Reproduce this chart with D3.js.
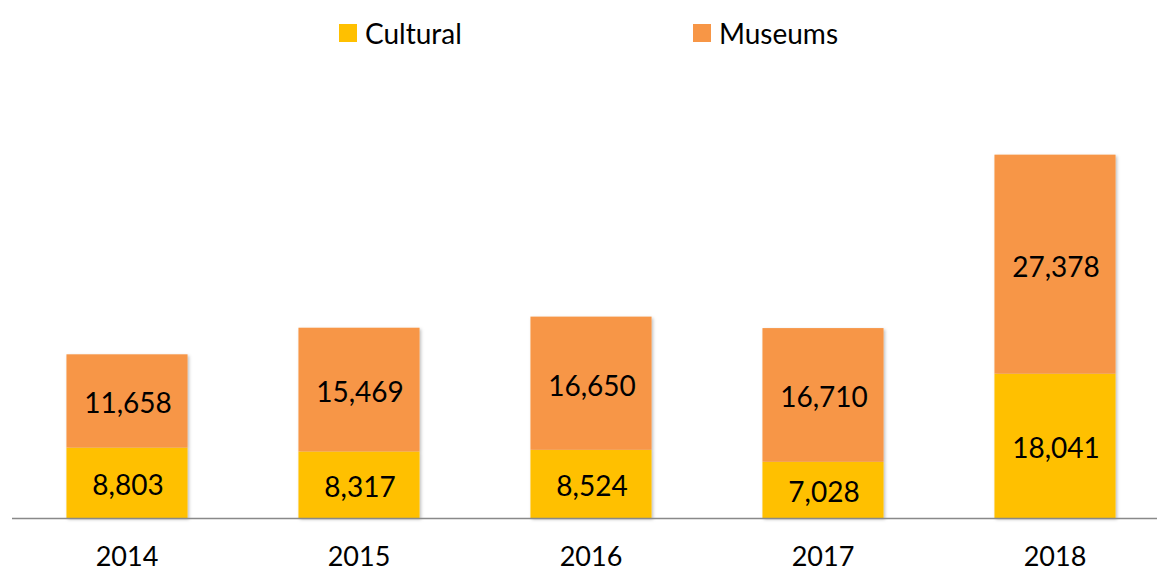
<!DOCTYPE html>
<html>
<head>
<meta charset="utf-8">
<script src="https://cdn.jsdelivr.net/npm/d3@7"></script>
<style>
  body { margin: 0; background: #fff; }
  svg { display: block; font-family: Lato, "Open Sans", sans-serif; }
</style>
</head>
<body>
<svg id="chart" width="1157" height="572"></svg>
<script>
/************************* Data *************************/
const years    = ["2014", "2015", "2016", "2017", "2018"];
const cultural = [8803, 8317, 8524, 7028, 18041];
const museums  = [11658, 15469, 16650, 16710, 27378];
const seriesNames  = ["Cultural", "Museums"];
const seriesColors = ["#FFC000", "#F79646"];

/************************* Layout *************************/
const W = 1157, H = 572;
const baseY = 518;

const svg = d3.select("#chart");

const rows = years.map((y, i) => ({year: y, Cultural: cultural[i], Museums: museums[i]}));
const stacked = d3.stack().keys(seriesNames)(rows);

const x = d3.scaleBand()
  .domain(years)
  .range([11, 1171])
  .paddingInner(0.478)
  .paddingOuter(0.239);

const y = d3.scaleLinear()
  .domain([0, 50000])
  .range([baseY, 118]);

const color = d3.scaleOrdinal().domain(seriesNames).range(seriesColors);

// soft shadow like the office chart
const defs = svg.append("defs");
const f = defs.append("filter").attr("id", "shadow")
  .attr("x", "-10%").attr("y", "-10%").attr("width", "130%").attr("height", "130%");
f.append("feDropShadow")
  .attr("dx", 1.5).attr("dy", 1.5).attr("stdDeviation", 1.5)
  .attr("flood-color", "#000").attr("flood-opacity", 0.25);

// Bars
const layers = svg.append("g").attr("filter", "url(#shadow)")
  .selectAll("g").data(stacked).join("g")
  .attr("fill", d => color(d.key));

layers.selectAll("rect").data(d => d).join("rect")
  .attr("x", d => x(d.data.year))
  .attr("y", d => y(d[1]))
  .attr("width", x.bandwidth())
  .attr("height", d => y(d[0]) - y(d[1]));

// Value labels
const fmt = d3.format(",");
svg.append("g").selectAll("g").data(stacked).join("g")
  .selectAll("text").data(d => d.map(v => ({v, key: d.key}))).join("text")
    .attr("x", d => x(d.v.data.year) + x.bandwidth() / 2 + 1)
    .attr("y", d => (y(d.v[0]) + y(d.v[1])) / 2 + 1.5)
    .attr("text-anchor", "middle")
    .attr("dominant-baseline", "central")
    .attr("font-size", 28)
    .attr("fill", "#000")
    .text(d => fmt(d.v.data[d.key]));

// Axis line + year labels
const axis = svg.append("g").attr("transform", `translate(0,${baseY})`)
  .call(d3.axisBottom(x).tickSize(0).tickPadding(29));
axis.select(".domain").remove();
axis.selectAll("text").attr("font-size", 27).attr("fill", "#000")
  .attr("font-family", "Lato, 'Open Sans', sans-serif");

svg.append("line")
  .attr("x1", 12).attr("x2", W)
  .attr("y1", baseY + 0.5).attr("y2", baseY + 0.5)
  .attr("stroke", "#898989").attr("stroke-width", 1.5);

// Legend
const legendX = [339, 693];
const legend = svg.append("g").selectAll("g").data(seriesNames).join("g")
  .attr("transform", (d, i) => `translate(${legendX[i]},24)`);
legend.append("rect").attr("width", 18).attr("height", 18).attr("fill", d => color(d));
legend.append("text")
  .attr("x", 26).attr("y", 9)
  .attr("dominant-baseline", "central")
  .attr("font-size", 28)
  .attr("fill", "#000")
  .text(d => d);
</script>
</body>
</html>
